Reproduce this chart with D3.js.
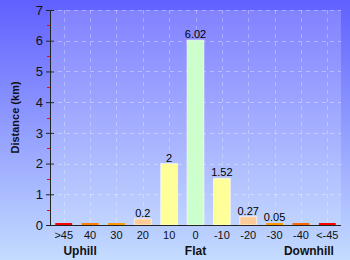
<!DOCTYPE html>
<html><head><meta charset="utf-8">
<script src="https://cdn.jsdelivr.net/npm/d3@7"></script>
<style>body{margin:0;padding:0;overflow:hidden}svg{display:block}text{font-family:"Liberation Sans",Arial,sans-serif}</style>
</head><body>
<script>
const categories = [">45","40","30","20","10","0","-10","-20","-30","-40","<-45"];
const values = [0,0,0,0.2,2,6.02,1.52,0.27,0.05,0,0];
const labels = ["","","","0.2","2","6.02","1.52","0.27","0.05","",""];
const colors = ["#ff0000","#ff7f00","#ff9900","#ffcc99","#ffff99","#ccffcc","#ffff99","#ffcc99","#ff9900","#ff6600","#ff0000"];
const yTicks = [0,1,2,3,4,5,6,7];
const groupLabels = ["Uphill","Flat","Downhill"];
const groupAt = ["40","0","-40"];

const W=350,H=260, L=50, R=341, T=10, B=225;
const svg=d3.select("body").append("svg").attr("width",W).attr("height",H);
const defs=svg.append("defs");
const g1=defs.append("linearGradient").attr("id","bg").attr("x1",0).attr("y1",0).attr("x2",0).attr("y2",1);
g1.append("stop").attr("offset","0").attr("stop-color","#6060ff");
g1.append("stop").attr("offset","1").attr("stop-color","#c4dcff");
const g2=defs.append("linearGradient").attr("id","pa").attr("x1",0).attr("y1",0).attr("x2",0).attr("y2",1);
g2.append("stop").attr("offset","0").attr("stop-color","#8282ff");
g2.append("stop").attr("offset","1").attr("stop-color","#c0d4ff");
svg.append("rect").attr("width",W).attr("height",H).attr("fill","url(#bg)");
svg.append("rect").attr("x",L).attr("y",T).attr("width",R-L).attr("height",B-T).attr("fill","url(#pa)");

const x=d3.scaleBand().domain(categories).range([L,R]).paddingInner(0.36).paddingOuter(0.2);
const y=d3.scaleLinear().domain([0,7]).range([B,T]);

// grid
svg.append("g").selectAll("line").data(yTicks.slice(1)).join("line")
  .attr("x1",L).attr("x2",R).attr("y1",d=>Math.round(y(d))+0.5).attr("y2",d=>Math.round(y(d))+0.5)
  .attr("stroke","rgba(255,255,255,0.35)").attr("stroke-dasharray","4,4");
svg.append("g").selectAll("line").data(categories).join("line")
  .attr("x1",d=>Math.round(x(d)+x.bandwidth()/2)+0.5).attr("x2",d=>Math.round(x(d)+x.bandwidth()/2)+0.5)
  .attr("y1",T).attr("y2",B)
  .attr("stroke","rgba(255,255,255,0.3)").attr("stroke-dasharray","4,4");

// bars
svg.append("g").selectAll("rect").data(values).join("rect")
  .attr("x",(d,i)=>x(categories[i]))
  .attr("width",x.bandwidth())
  .attr("y",d=>Math.min(y(d),B-2))
  .attr("height",d=>Math.max(B-y(d),2))
  .attr("fill",(d,i)=>colors[i])
  .attr("stroke",(d,i)=>d>0.1?"rgba(255,255,255,0.6)":"none").attr("stroke-width",1);

svg.append("g").selectAll("text").data(values).join("text")
  .attr("x",(d,i)=>x(categories[i])+x.bandwidth()/2)
  .attr("y",d=>y(d)-2)
  .attr("text-anchor","middle").attr("font-size",11).attr("fill","#000")
  .text((d,i)=>labels[i]);

// axes
const yAxis=d3.axisLeft(y).tickValues(yTicks).tickFormat(d3.format("d")).tickSize(4).tickPadding(3);
const ya=svg.append("g").attr("transform",`translate(${L},0)`).call(yAxis);
ya.select(".domain").attr("stroke","#222").attr("d",`M0.5,${T}V${B}`);
ya.selectAll(".tick line").attr("x1",-4).attr("x2",4).attr("stroke","#222");
ya.selectAll("text").attr("font-size",13).attr("fill","#111").attr("font-family","Liberation Sans,Arial,sans-serif");
svg.append("g").selectAll("line").data(d3.range(0.5,7,1)).join("line")
  .attr("x1",L-3).attr("x2",L).attr("y1",d=>Math.round(y(d))+0.5).attr("y2",d=>Math.round(y(d))+0.5)
  .attr("stroke","#ff0000");

const xAxis=d3.axisBottom(x).tickSize(0).tickPadding(6);
const xa=svg.append("g").attr("transform",`translate(0,${B})`).call(xAxis);
xa.select(".domain").attr("stroke","#222").attr("d",`M${L},0.5H${R}`);
xa.selectAll("text").attr("font-size",11).attr("fill","#111").attr("font-family","Liberation Sans,Arial,sans-serif");

svg.append("g").selectAll("text").data(groupLabels).join("text")
  .attr("x",(d,i)=>x(groupAt[i])+x.bandwidth()/2 + (i===0?-10:(i===2?8:0)))
  .attr("y",255).attr("text-anchor","middle").attr("font-size",12).attr("font-weight","bold").attr("fill","#111")
  .text(d=>d);

svg.append("text").attr("transform",`translate(19,${(T+B)/2}) rotate(-90)`)
  .attr("text-anchor","middle").attr("font-size",11).attr("font-weight","bold").attr("fill","#111")
  .text("Distance (km)");
</script>
</body></html>
